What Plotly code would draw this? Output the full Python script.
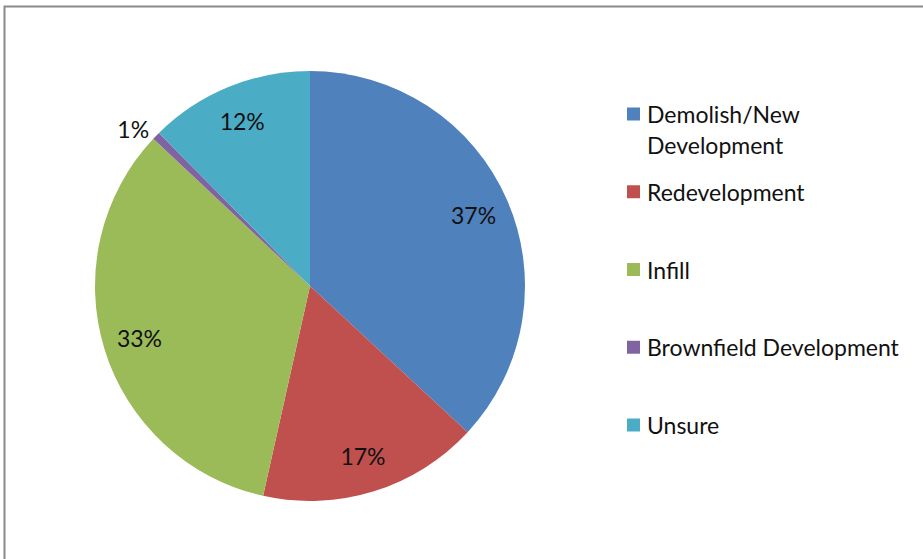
import plotly.graph_objects as go

labels = ["Demolish/New<br>Development", "Redevelopment", "Infill", "Brownfield Development", "Unsure"]
values = [36.9, 16.6, 33.5, 0.6, 12.4]
text_labels = ["37%", "17%", "33%", "1%", "12%"]
colors = ["#4F81BD", "#C0504D", "#9BBB59", "#8064A2", "#4BACC6"]
positions = ["inside", "inside", "inside", "outside", "inside"]

W, H = 923, 559
FONT = "Lato"
FS = 23

domain = dict(x=[(310 - 215) / W, (310 + 215) / W], y=[(559 - 286 - 215) / H, (559 - 286 + 215) / H])
plain_names = [l.replace("<br>", " ") for l in labels]

fig = go.Figure()
# Coloured slices
fig.add_trace(go.Pie(
    labels=plain_names,
    values=values,
    textinfo="none",
    marker=dict(colors=colors, line=dict(width=0)),
    sort=False,
    direction="clockwise",
    rotation=0,
    showlegend=False,
    hoverinfo="label+percent",
    domain=domain,
))
# Transparent ring carrying the percentage labels further out (like Excel's placement)
fig.add_trace(go.Pie(
    labels=plain_names,
    values=values,
    text=text_labels,
    textinfo="text",
    textposition=positions,
    insidetextorientation="horizontal",
    textfont=dict(family=FONT, size=FS, color="#111111"),
    marker=dict(colors=["rgba(0,0,0,0)"] * len(values), line=dict(width=0)),
    hole=0.66,
    sort=False,
    direction="clockwise",
    rotation=0,
    showlegend=False,
    hoverinfo="skip",
    domain=domain,
))

# Manual legend to mimic the wide vertical spacing of the original
shapes = [dict(type="rect", xref="paper", yref="paper",
               x0=4.5 / W, x1=1.05, y0=-0.05, y1=1 - 6.5 / H,
               line=dict(color="#8a8a8a", width=2), fillcolor="rgba(0,0,0,0)", layer="above")]
annotations = []
y0 = 114
step = 77.75
line_gap = 31
for i, (lab, col) in enumerate(zip(labels, colors)):
    yc = y0 + step * i
    shapes.append(dict(type="rect", xref="paper", yref="paper",
                       x0=627 / W, x1=640 / W, y0=1 - (yc + 6.5) / H, y1=1 - (yc - 6.5) / H,
                       fillcolor=col, line=dict(width=0)))
    for j, part in enumerate(lab.split("<br>")):
        annotations.append(dict(xref="paper", yref="paper", x=645 / W, y=1 - (yc + line_gap * j) / H,
                                xanchor="left", yanchor="middle", showarrow=False, text=part,
                                font=dict(family=FONT, size=FS, color="#111111")))

fig.update_layout(
    width=W, height=H,
    margin=dict(l=0, r=0, t=0, b=0),
    paper_bgcolor="white", plot_bgcolor="white",
    shapes=shapes, annotations=annotations,
    font=dict(family=FONT, size=FS, color="#111111"),
)

fig.write_html("out.html")
